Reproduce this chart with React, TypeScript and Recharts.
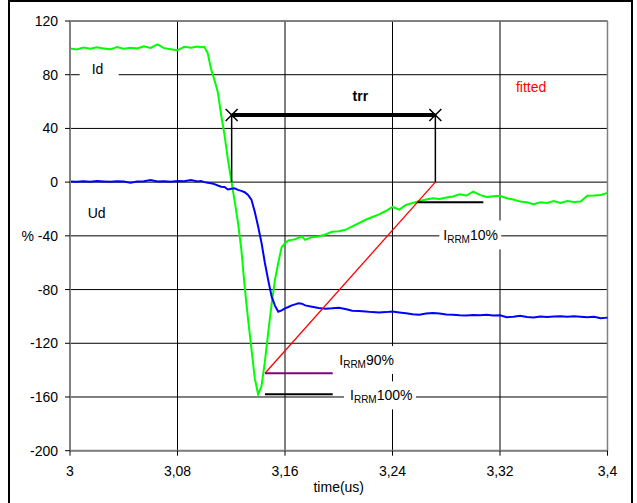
import React from "react";
import {
  LineChart,
  Line,
  XAxis,
  YAxis,
  CartesianGrid,
  ReferenceLine,
  ReferenceDot,
  Label,
} from "recharts";

// sample times (us)
const times = [
  3.0, 3.005, 3.01, 3.015, 3.02, 3.025, 3.03, 3.035, 3.04, 3.045,
  3.05, 3.055, 3.06, 3.065, 3.07, 3.075, 3.08, 3.085, 3.09, 3.095,
  3.0975, 3.1, 3.1025, 3.105, 3.1075, 3.11, 3.1125, 3.115, 3.1175, 3.12,
  3.1225, 3.125, 3.1275, 3.13, 3.1325, 3.135, 3.1375, 3.14, 3.1425, 3.145,
  3.1475, 3.15, 3.1525, 3.155, 3.1575, 3.16, 3.1625, 3.165, 3.1675, 3.17,
  3.1725, 3.175,
  3.18, 3.185, 3.19, 3.195, 3.2, 3.205, 3.21, 3.215, 3.22, 3.225,
  3.23, 3.235, 3.24, 3.245, 3.25, 3.255, 3.26, 3.265, 3.27, 3.275,
  3.28, 3.285, 3.29, 3.295, 3.3, 3.305, 3.31, 3.315, 3.32, 3.325,
  3.33, 3.335, 3.34, 3.345, 3.35, 3.355, 3.36, 3.365, 3.37, 3.375,
  3.38, 3.385, 3.39, 3.395, 3.4,
];

// Id (%)
const idValues = [
  99.5, 98.8, 100.2, 99.4, 100.4, 99.6, 98.9, 100.6, 99.3, 100.1,
  99.5, 101.2, 100.0, 102.6, 99.8, 99.0, 98.2, 100.8, 100.1, 101.0,
  100.5, 100.8, 96, 84, 76, 67, 50, 35, 17, 1.5,
  -14, -30, -50, -78, -102, -124, -146, -158, -152, -134,
  -112, -91, -73, -60, -48.5, -45.5, -43.5, -43, -42.5, -41.5,
  -40.5, -43,
  -41, -40.5, -39, -37, -36.5, -35.5, -33, -30.5, -28, -26,
  -24, -21.5, -18.5, -20.5, -17, -15.5, -14, -13, -12, -12.5,
  -11.5, -10.7, -9, -10, -7, -9.5, -11, -10.5, -10.2, -12,
  -13, -14.5, -15, -16.4, -15, -15.5, -14, -15.5, -14, -14.8,
  -14.4, -10.2, -10, -9.5, -8,
];

// Ud (%)
const udValues = [
  0.4, 0.2, 0.6, 0.3, 0.8, 0.5, 0.2, 0.6, 0.4, -0.5,
  0.5, 0.7, 1.6, 0.5, 0.6, 0.3, 0.8, 0.6, 1.5, 0.4,
  0.9, 0.0, -0.4, -0.8, -1.5, -2.5, -3.4, -3.6, -5.5, -5.0,
  -4.6, -5.8, -6.5, -7.5, -9.5, -13, -22, -33, -45, -60,
  -73, -85, -92, -96.5, -95.5, -94, -93, -91.8, -91, -90.2,
  -90.5, -91.8,
  -92.8, -93.8, -94.3, -94, -93.5, -94.5, -95.8, -96, -96.3, -96.8,
  -97.1, -96.8, -96.3, -97, -97.6, -98.3, -98.8, -97.8, -97.4, -97.9,
  -98.6, -98.8, -99.2, -99.3, -98.9, -99.1, -98.8, -99.3, -99.1, -100.6,
  -100.2, -99.5, -100.5, -100.8, -100, -100.4, -100.1, -99.8, -100.3, -99.9,
  -100.2, -100.6, -100.3, -101.3, -100.9,
];

const xTicks = [3, 3.08, 3.16, 3.24, 3.32, 3.4];
const yTicks = [-200, -160, -120, -80, -40, 0, 40, 80, 120];

// trr construction
const trrTimes = [3.1203, 3.2719];
const trrLevel = 50;
const irrmPeakTime = 3.1451;
const irrmLineEnd = 3.1955;
const irrm100 = -157.9;
const irrm90 = -142.3;
const irrm10 = -14.9;
const irrm10Times = [3.2586, 3.3076];

const rows = times.map((t, i) => ({ t, id: idValues[i], ud: udValues[i] }));

const FONT = "'Liberation Sans', Arial, sans-serif";

const xMark = (props: any) => {
  const { cx, cy } = props;
  const s = 6;
  return (
    <g stroke="#000" strokeWidth={1.5}>
      <line x1={cx - s} y1={cy - s} x2={cx + s} y2={cy + s} />
      <line x1={cx - s} y1={cy + s} x2={cx + s} y2={cy - s} />
    </g>
  );
};

const note =
  (text: string, opts: { color?: string; bold?: boolean; box?: [number, number, number] } = {}) =>
  (props: any) => {
    const { cx, cy } = props;
    return (
      <g>
        {opts.box && (
          <rect x={cx + opts.box[0]} y={cy - opts.box[2] / 2} width={opts.box[1]} height={opts.box[2]} fill="#fff" />
        )}
        <text x={cx} y={cy + 5} fontSize={14} fontFamily={FONT} fill={opts.color || "#000"} fontWeight={opts.bold ? "bold" : "normal"}>
          {text}
        </text>
      </g>
    );
  };

const irrmNote = (pct: string, box: [number, number, number]) => (props: any) => {
  const { cx, cy } = props;
  return (
    <g>
      <rect x={cx + box[0]} y={cy - box[2] / 2} width={box[1]} height={box[2]} fill="#fff" />
      <text x={cx} y={cy + 5} fontSize={14} fontFamily={FONT} fill="#000">
        <tspan>I</tspan>
        <tspan fontSize={10} dy={3}>RRM</tspan>
        <tspan fontSize={14} dy={-3}>{pct}</tspan>
      </text>
    </g>
  );
};

export default function App() {
  return (
    <div style={{ position: "absolute", left: 0, top: 0, width: 637, height: 503, overflow: "hidden", background: "#fff" }}>
      <div style={{ position: "absolute", left: 8, top: 0, width: 621, height: 520, border: "2px solid #000" }} />
      <div style={{ position: "absolute", left: 0, top: 0 }}>
        <LineChart
          width={637}
          height={503}
          data={rows}
          margin={{ top: 21, right: 29.5, bottom: 0, left: 0 }}
          style={{ fontFamily: FONT }}
        >
          <CartesianGrid stroke="#000" strokeWidth={1} />
          <XAxis
            dataKey="t"
            type="number"
            domain={[3, 3.4]}
            ticks={xTicks}
            height={52.3}
            tickSize={5}
            tickMargin={10}
            tick={{ fontSize: 14, fill: "#000" }}
            tickFormatter={(v: number) => String(v).replace(".", ",")}
            axisLine={{ stroke: "#808080", strokeWidth: 2 }}
            tickLine={{ stroke: "#000" }}
          >
            <Label value="time(us)" position="insideBottom" offset={11} fill="#000" fontSize={14} />
          </XAxis>
          <YAxis
            type="number"
            domain={[-200, 120]}
            ticks={yTicks}
            width={70}
            tickSize={5}
            tickMargin={7}
            tick={{ fontSize: 14, fill: "#000" }}
            tickFormatter={(v: number) => (v === -40 ? "% -40" : String(v))}
            axisLine={{ stroke: "#808080", strokeWidth: 2 }}
            tickLine={{ stroke: "#000" }}
          />
          <ReferenceLine y={120} stroke="#808080" strokeWidth={1.5} />
          <ReferenceLine x={3.4} stroke="#808080" strokeWidth={1.5} />

          <ReferenceDot x={3.0161} y={84.2} r={0} shape={note("Id", { box: [-12, 39, 16] })} />
          <ReferenceDot x={3.0132} y={-23.1} r={0} shape={note("Ud")} />
          <ReferenceDot x={3.2103} y={64.5} r={0} shape={note("trr", { bold: true })} />
          <ReferenceDot x={3.3319} y={70.8} r={0} shape={note("fitted", { color: "#ff0000" })} />
          <ReferenceDot x={3.2778} y={-39.3} r={0} shape={irrmNote("10%", [-4, 62, 29])} />
          <ReferenceDot x={3.2004} y={-132.4} r={0} shape={irrmNote("90%", [-4, 62, 28])} />
          <ReferenceDot x={3.2084} y={-158.8} r={0} shape={irrmNote("100%", [-6, 72, 28])} />

          <Line type="linear" dataKey="id" stroke="#00ff00" strokeWidth={2} dot={false} isAnimationActive={false} />
          <Line type="linear" dataKey="ud" stroke="#0000ff" strokeWidth={2} dot={false} isAnimationActive={false} />

          <ReferenceLine segment={[{ x: trrTimes[0], y: trrLevel }, { x: trrTimes[0], y: 0 }]} stroke="#000" strokeWidth={1.5} />
          <ReferenceLine segment={[{ x: trrTimes[1], y: trrLevel }, { x: trrTimes[1], y: 0 }]} stroke="#000" strokeWidth={1.5} />
          <ReferenceLine segment={[{ x: trrTimes[0], y: trrLevel }, { x: trrTimes[1], y: trrLevel }]} stroke="#000" strokeWidth={4} />
          <ReferenceLine segment={[{ x: trrTimes[1], y: 0 }, { x: irrmPeakTime, y: irrm90 }]} stroke="#ff0000" strokeWidth={1.3} />
          <ReferenceLine segment={[{ x: irrmPeakTime, y: irrm90 }, { x: irrmLineEnd, y: irrm90 }]} stroke="#800080" strokeWidth={2} />
          <ReferenceLine segment={[{ x: irrmPeakTime, y: irrm100 }, { x: irrmLineEnd, y: irrm100 }]} stroke="#000" strokeWidth={2} />
          <ReferenceLine segment={[{ x: irrm10Times[0], y: irrm10 }, { x: irrm10Times[1], y: irrm10 }]} stroke="#000" strokeWidth={2} />
          <ReferenceDot x={trrTimes[0]} y={trrLevel} r={0} shape={xMark} />
          <ReferenceDot x={trrTimes[1]} y={trrLevel} r={0} shape={xMark} />
        </LineChart>
      </div>
    </div>
  );
}
